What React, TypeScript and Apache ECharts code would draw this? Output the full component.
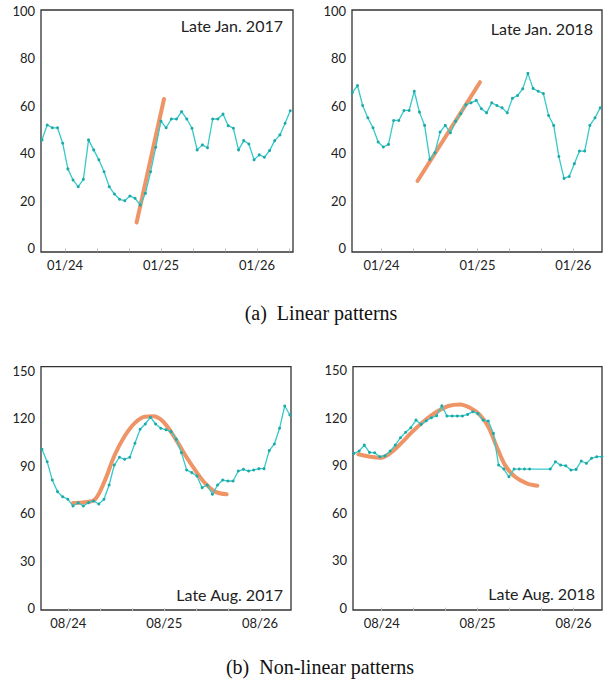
import React, { useEffect, useRef } from "react";
import * as echarts from "echarts";

// ---------- data ----------
const STEP_H = 1.293; // hours between samples
const JAN_DAY_LABELS = ["01/24", "01/25", "01/26"];
const AUG_DAY_LABELS = ["08/24", "08/25", "08/26"];
const JAN_Y_TICKS = [0, 20, 40, 60, 80, 100];
const AUG_Y_TICKS = [0, 30, 60, 90, 120, 150];
const DAY_TICK_HOURS = [0, 24, 48];
const MINOR_TICK_HOURS = [0, 8, 16, 24, 32, 40, 48, 56];

const jan2017Start = -5.75;
const jan2017 = [
  45.7, 52, 50.8, 50.8, 44.3, 33.5, 28.8, 26, 29.1, 45.7, 41.5, 37.3, 32.3, 26,
  22.9, 20.7, 20.1, 22.1, 21.1, 18.3, 23.2, 32.3, 42.6, 53.6, 50.8, 54.5, 54.5,
  57.6, 54.5, 50.6, 41.5, 43.6, 42.4, 54.5, 54.5, 56.6, 51.7, 50.6, 41.5, 45.4,
  44, 37.3, 39.4, 38.4, 41.2, 45.4, 47.8, 52.7, 58,
];
const jan2017Fit = [
  [17.9, 10.9],
  [24.75, 62.9],
];

const jan2018Start = -7.32;
const jan2018 = [
  65.6, 68.6, 60.2, 55, 50.8, 44.8, 42.7, 43.8, 53.9, 53.9, 58.1, 58.1, 66.2,
  57.4, 51.8, 37.5, 40.3, 49, 51.8, 48.7, 53.6, 56.7, 60.5, 61.3, 62.4, 58.8,
  57.1, 61.3, 60.2, 59.2, 57.1, 63.2, 64.4, 67.2, 73.7, 67.4, 66.2, 65.2, 56,
  51.8, 38.7, 29.5, 30.3, 35.7, 41, 41, 51.8, 55, 59.2,
];
const jan2018Fit = [
  [9.0, 28.4],
  [24.65, 70],
];

const aug2017Start = -6.59;
const aug2017 = [
  100.4, 92.6, 81, 73.7, 70.5, 68.9, 64.6, 66.7, 64.6, 66.7, 67.8, 65.9, 68.9,
  77.9, 90.5, 95.4, 94.1, 95.4, 104.2, 113.1, 116.4, 120.7, 116.4, 113.7, 112.8,
  111.6, 106.8, 98.3, 87.4, 85.7, 83.6, 76.2, 77.9, 72, 77.9, 81, 80.4, 80.4,
  86.7, 87.8, 86.7, 87.4, 88.2, 88.2, 99.6, 103.8, 113.7, 127.8, 122.1,
];
const aug2017Fit = [
  [1.17, 66.5], [4.18, 67], [6.68, 68.8], [9.11, 80.5], [11.61, 96.8],
  [14.12, 108.8], [16.62, 117], [19.12, 121], [21.2, 121.3], [23.71, 118],
  [26.71, 107.5], [29.21, 97], [31.72, 87.4], [34.22, 79], [36.73, 73.7],
  [39.66, 72],
];

const aug2018Start = -6.94;
const aug2018 = [
  97.4, 98.9, 102.6, 98, 97.8, 95.3, 95.9, 98.9, 102.6, 107.3, 110.7, 113.6,
  118.4, 115.7, 118, 119.9, 121.1, 127.4, 121, 121, 121, 121, 122, 123.7, 122.6,
  118.4, 117.8, 110, 90, 87.5, 82.6, 87.5, 87.5, 87.5, 87.5, null, null, null,
  87.5, 92.1, 90, 89.6, 86.9, 87.3, 92.6, 91.1, 94.3, 95.3, 95.3,
];
const aug2018Fit = [
  [-5.86, 96.8], [-2.93, 95.3], [-0.43, 94.6], [2.07, 97.4], [4.58, 103.1],
  [7.51, 110.7], [10.41, 117.4], [13.77, 123.7], [16.67, 127.3], [19.6, 128.3],
  [22.1, 126.2], [24.61, 121.6], [26.69, 114.2], [28.79, 101.6], [30.87, 90],
  [33.37, 82.6], [36.3, 78.5], [38.95, 77],
];

const PANEL_NOTES = ["Late Jan. 2017", "Late Jan. 2018", "Late Aug. 2017", "Late Aug. 2018"];
const CAPTIONS = ["(a)  Linear patterns", "(b)  Non-linear patterns"];

// ---------- styling ----------
const TEAL = "#35C9C9";
const TEAL_DOT = "#1FA8A8";
const ORANGE = "#EE9466";
const TEXT = "#222";
const SANS = "Lato, 'Open Sans', sans-serif";

const toPoints = (vals: (number | null)[], start: number) =>
  vals.map((v, i) => [Number((start + i * STEP_H).toFixed(3)), v]);

export default function App() {
  const ref = useRef<HTMLDivElement>(null);

  useEffect(() => {
    if (!ref.current) return;
    const chart = echarts.init(ref.current, undefined, { renderer: "svg" });

    const panels = [
      { grid: { left: 41, top: 10, width: 252, height: 242 }, x: [-6, 57], y: [-1.5, 100.4], yTicks: JAN_Y_TICKS, days: JAN_DAY_LABELS, vals: jan2017, start: jan2017Start, fit: jan2017Fit, smooth: false },
      { grid: { left: 352, top: 10, width: 250, height: 242 }, x: [-7.4, 55.2], y: [-1.5, 100.4], yTicks: JAN_Y_TICKS, days: JAN_DAY_LABELS, vals: jan2018, start: jan2018Start, fit: jan2018Fit, smooth: false },
      { grid: { left: 41, top: 366.7, width: 250, height: 243.3 }, x: [-6.84, 55.75], y: [-1.07, 152.6], yTicks: AUG_Y_TICKS, days: AUG_DAY_LABELS, vals: aug2017, start: aug2017Start, fit: aug2017Fit, smooth: true },
      { grid: { left: 353, top: 366.7, width: 249, height: 243.3 }, x: [-7.19, 55.15], y: [-1.45, 152.1], yTicks: AUG_Y_TICKS, days: AUG_DAY_LABELS, vals: aug2018, start: aug2018Start, fit: aug2018Fit, smooth: true },
    ];

    const grid = panels.map((p) => ({
      ...p.grid,
      show: true,
      borderColor: "#333",
      borderWidth: 1.3,
      backgroundColor: "transparent",
      containLabel: false,
    }));

    const xAxis = panels.map((p, i) => ({
      type: "value",
      gridIndex: i,
      min: p.x[0],
      max: p.x[1],
      axisLine: { show: false },
      splitLine: { show: false },
      axisTick: {
        show: true,
        length: 3,
        lineStyle: { color: "#bbb", width: 1 },
        customValues: MINOR_TICK_HOURS.filter((h) => h <= p.x[1]),
      },
      axisLabel: {
        customValues: DAY_TICK_HOURS,
        formatter: (v: number) => p.days[Math.round(v / 24)] ?? "",
        color: TEXT,
        fontFamily: SANS,
        fontSize: 13,
        margin: 6,
      },
    }));

    const yAxis = panels.map((p, i) => ({
      type: "value",
      gridIndex: i,
      min: p.y[0],
      max: p.y[1],
      axisLine: { show: false },
      splitLine: { show: false },
      axisTick: { show: false },
      axisLabel: {
        customValues: p.yTicks,
        color: TEXT,
        fontFamily: SANS,
        fontSize: 13,
        margin: 6,
      },
    }));

    const series: any[] = [];
    panels.forEach((p, i) => {
      series.push({
        type: "line",
        xAxisIndex: i,
        yAxisIndex: i,
        data: p.fit,
        smooth: p.smooth ? 0.35 : false,
        showSymbol: false,
        lineStyle: { color: ORANGE, width: 4, cap: "round" },
        z: 2,
      });
      series.push({
        type: "line",
        xAxisIndex: i,
        yAxisIndex: i,
        data: toPoints(p.vals, p.start),
        connectNulls: true,
        symbol: "circle",
        symbolSize: 3,
        itemStyle: { color: TEAL_DOT },
        lineStyle: { color: TEAL, width: 1.3 },
        z: 3,
      });
    });

    const noteStyle = { fill: TEXT, fontFamily: SANS, fontSize: 16, textAlign: "right", textVerticalAlign: "middle" };
    const captionStyle = { fill: "#111", fontFamily: "'Liberation Serif', 'Times New Roman', serif", fontSize: 20, textAlign: "center", textVerticalAlign: "middle" };

    chart.setOption({
      animation: false,
      backgroundColor: "#fff",
      grid,
      xAxis,
      yAxis,
      series,
      graphic: [
        { type: "text", x: 283, y: 25, style: { ...noteStyle, text: PANEL_NOTES[0] } },
        { type: "text", x: 593, y: 28, style: { ...noteStyle, text: PANEL_NOTES[1] } },
        { type: "text", x: 283, y: 594, style: { ...noteStyle, text: PANEL_NOTES[2] } },
        { type: "text", x: 595, y: 593, style: { ...noteStyle, text: PANEL_NOTES[3] } },
        { type: "text", x: 321, y: 313, style: { ...captionStyle, text: CAPTIONS[0] } },
        { type: "text", x: 320, y: 667, style: { ...captionStyle, text: CAPTIONS[1] } },
      ],
    });

    return () => chart.dispose();
  }, []);

  return (
    <div
      ref={ref}
      style={{ position: "absolute", left: 0, top: 0, width: 604, height: 682, background: "#fff" }}
    />
  );
}
